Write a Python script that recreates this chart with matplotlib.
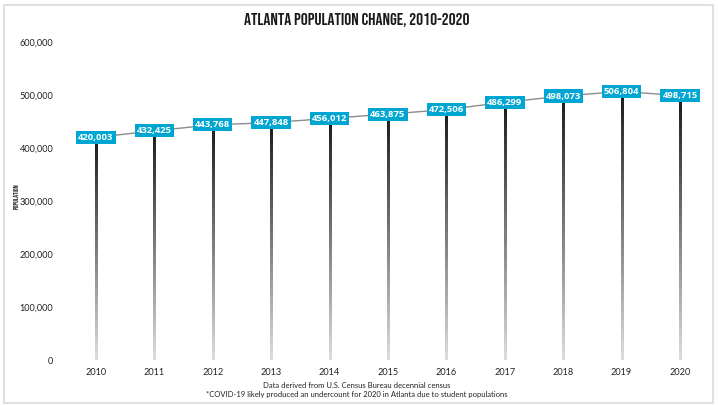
import numpy as np
import matplotlib
matplotlib.use("Agg")
import matplotlib.pyplot as plt
from matplotlib.collections import LineCollection
from matplotlib.patches import Rectangle

years = [2010, 2011, 2012, 2013, 2014, 2015, 2016, 2017, 2018, 2019, 2020]
population = [420003, 432425, 443768, 447848, 456012, 463875, 472506,
              486299, 498073, 506804, 498715]
y_ticks = [0, 100000, 200000, 300000, 400000, 500000, 600000]

body_font = ["Lato", "DejaVu Sans"]
label_font = ["Open Sans", "DejaVu Sans"]
head_font = ["Bebas Neue", "Oswald", "DejaVu Sans"]
plt.rcParams["font.family"] = body_font

fig = plt.figure(figsize=(7.18, 4.05), dpi=100)
ax = fig.add_axes([70 / 718, 45 / 405, 636 / 718, 318 / 405])

# stems fading from dark at the top to light grey at the bottom
n_seg = 120
for x, v in zip(years, population):
    ys = np.linspace(v, 0, n_seg + 1)
    segs = [[(x, ys[k]), (x, ys[k + 1])] for k in range(n_seg)]
    shade = np.linspace(0.1, 0.86, n_seg)
    cols = [(s, s, s) for s in shade]
    ax.add_collection(LineCollection(segs, colors=cols, linewidths=2,
                                     antialiaseds=False, capstyle="projecting",
                                     zorder=2))

ax.plot(years, population, color="#8c8c8c", lw=1, zorder=1)

for x, v in zip(years, population):
    ax.text(x, v, f"{v:,}", ha="center", va="center", color="white",
            fontsize=6.8, fontweight="bold", family=label_font, zorder=4,
            bbox=dict(boxstyle="square,pad=0.22", fc="#00a6d2", ec="none"))

ax.set_xlim(2009.555, 2020.445)
ax.set_ylim(0, 600000)
ax.set_xticks(years)
ax.set_xticklabels([str(y) for y in years], fontsize=6.6, color="#222222")
ax.set_yticks(y_ticks)
ax.set_yticklabels([f"{t:,}" for t in y_ticks], fontsize=6.6, color="#222222")
ax.tick_params(length=0)
ax.tick_params(axis="y", pad=12)
ax.tick_params(axis="x", pad=6)
for s in ax.spines.values():
    s.set_visible(False)

fig.text(16 / 718, 1 - 196 / 405, "POPULATION", rotation=90, ha="center",
         va="center", fontsize=5, family=head_font, color="#222222")

fig.text(357 / 718, 1 - 20 / 405, "ATLANTA POPULATION CHANGE, 2010-2020", ha="center",
         va="center", fontsize=12.5, family=head_font, color="#1a1a1a")

fig.text(357 / 718, 1 - 385 / 405, "Data derived from U.S. Census Bureau decennial census",
         ha="center", va="center", fontsize=5.5, color="#222222")
fig.text(357 / 718, 1 - 394 / 405,
         "*COVID-19 likely produced an undercount for 2020 in Atlanta due to student populations",
         ha="center", va="center", fontsize=5.5, color="#222222")

fig.patches.append(Rectangle((4 / 718, 2 / 405), 709 / 718, 398 / 405,
                             transform=fig.transFigure, fill=False,
                             ec="#e0e0e0", lw=1.5))

fig.savefig("out.png", dpi=100)
